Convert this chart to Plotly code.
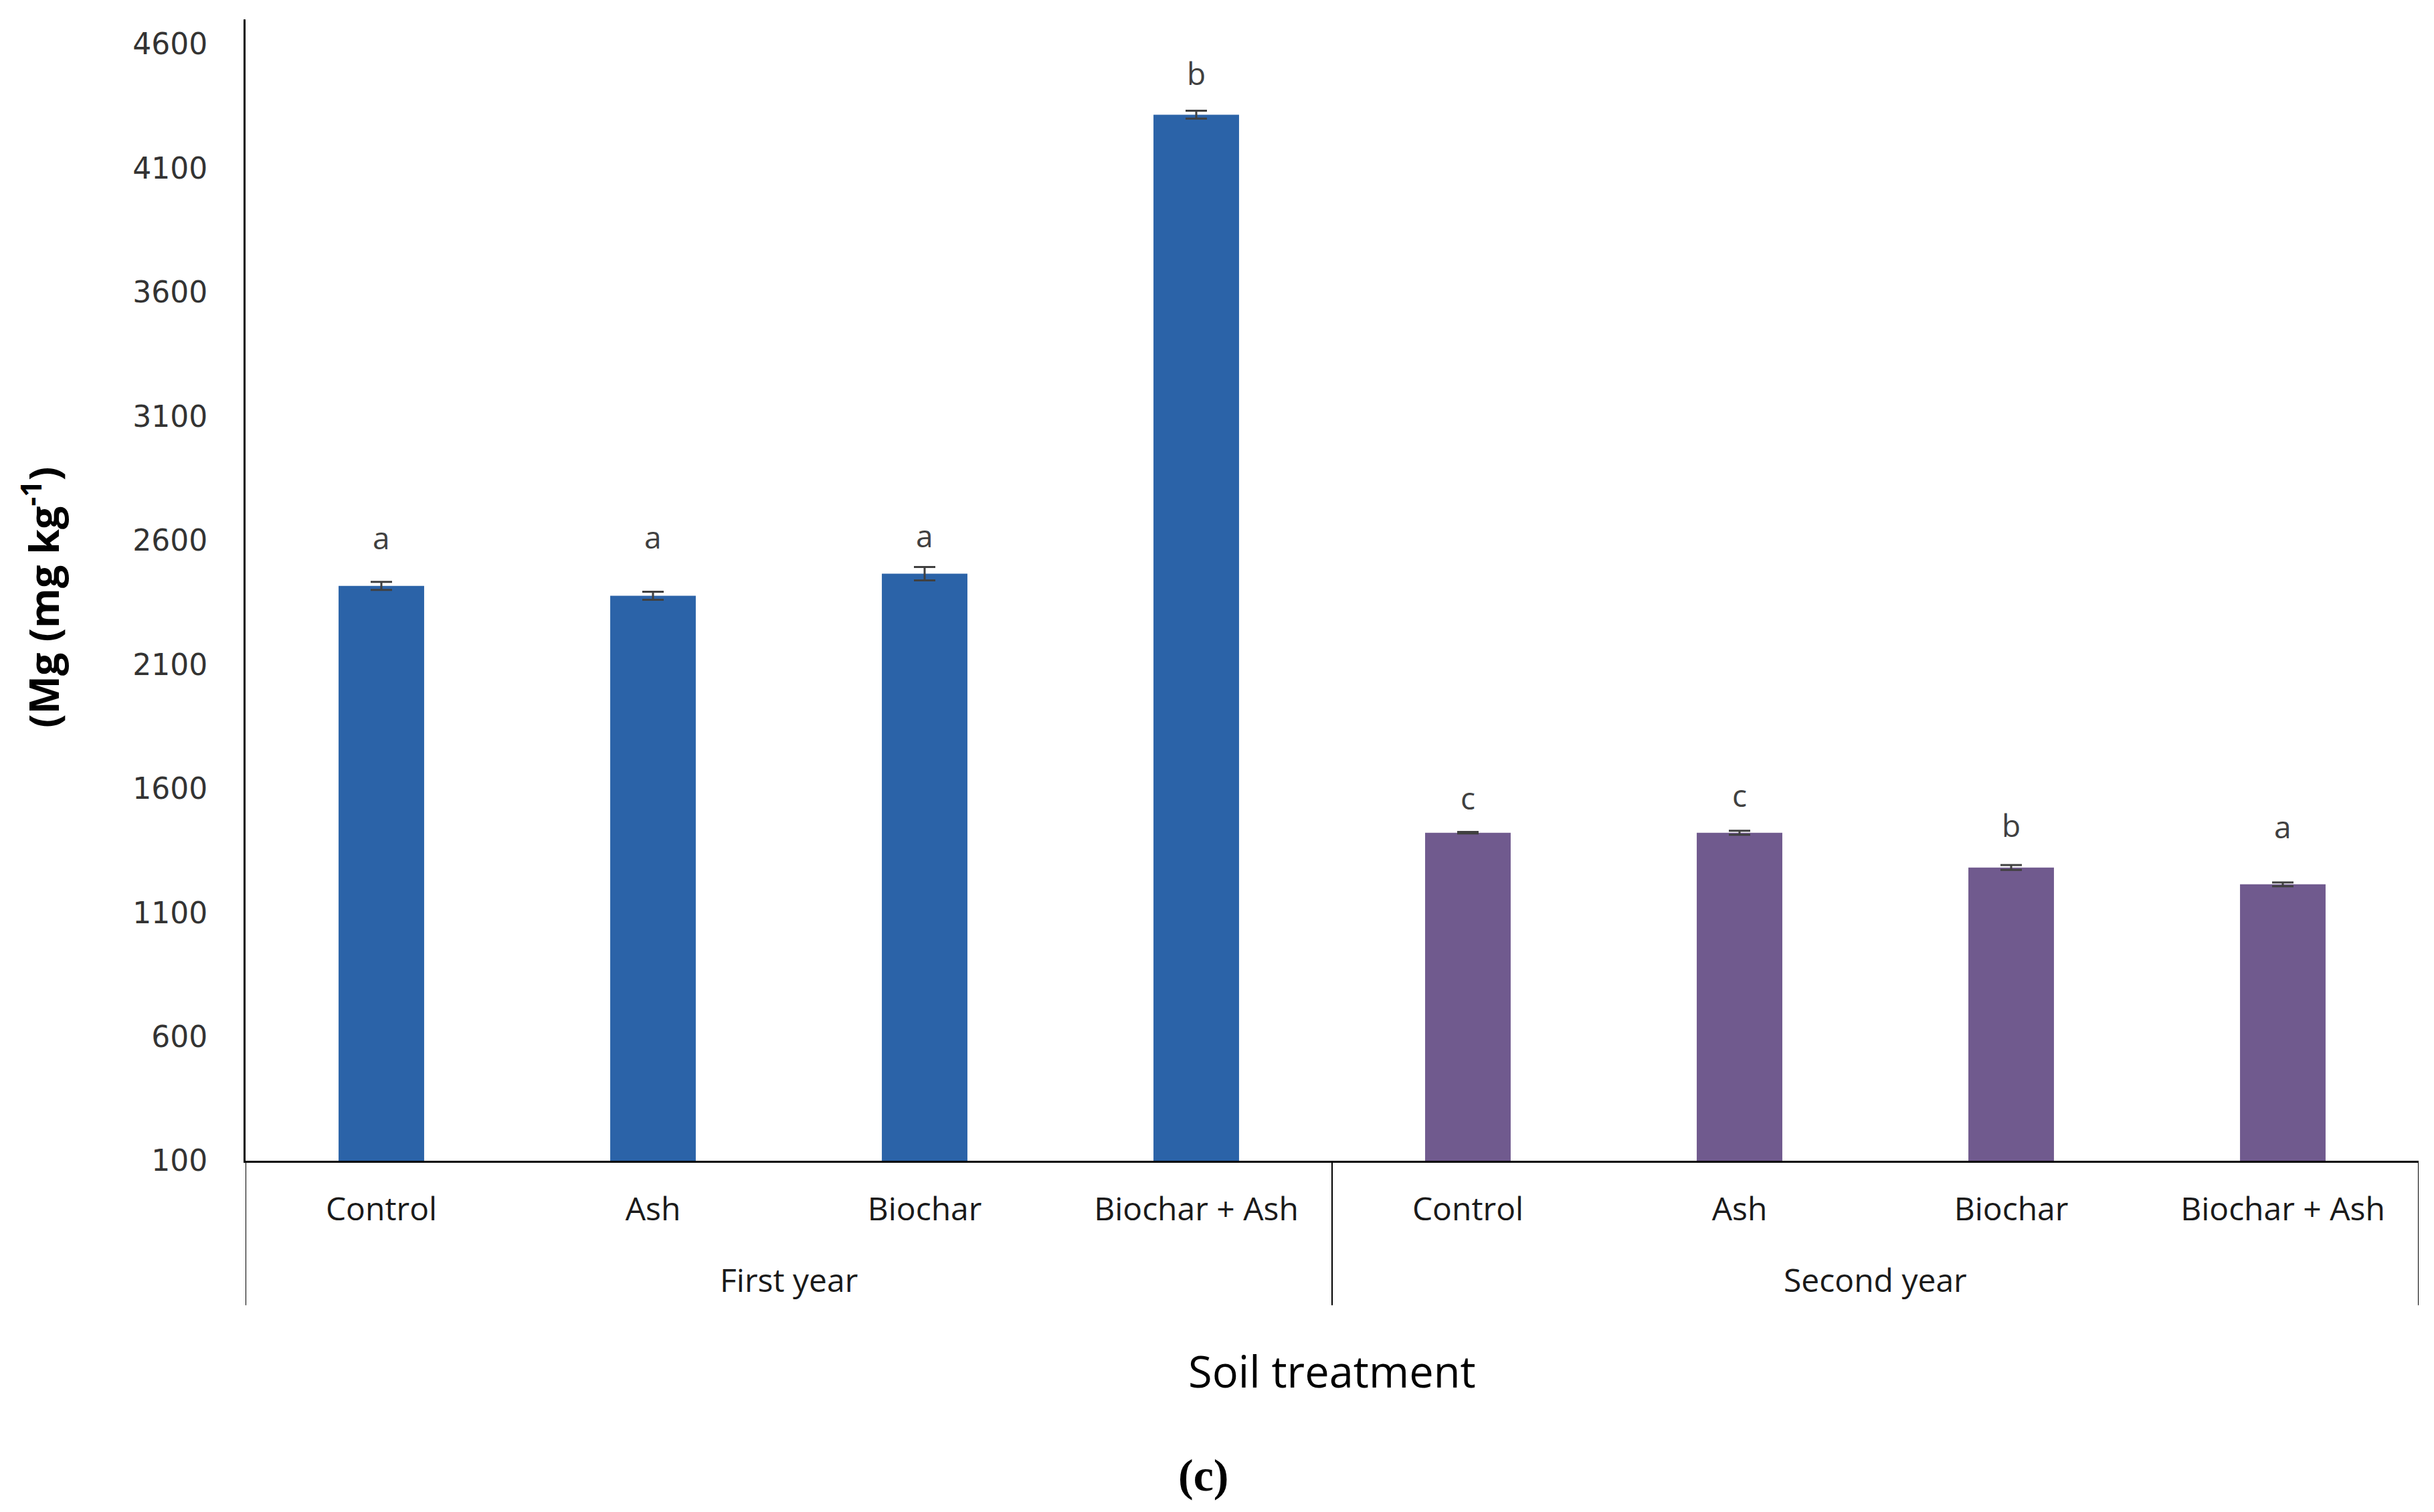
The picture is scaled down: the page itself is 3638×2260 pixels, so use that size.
import plotly.graph_objects as go

treatments = ["Control", "Ash", "Biochar", "Biochar + Ash"]
years = ["First year", "Second year"]

first_year = [2417, 2377, 2466, 4316]
first_err = [16, 16, 27, 16]
second_year = [1422, 1422, 1282, 1214]
second_err = [3, 8, 10, 8]

first_letters = ["a", "a", "a", "b"]
first_letter_y = [2614, 2617, 2622, 4484]
second_letters = ["c", "c", "b", "a"]
second_letter_y = [1565, 1576, 1454, 1449]

y_ticks = list(range(100, 4601, 500))

BLUE = "#2B63A8"
PURPLE = "#705A8E"

n = len(treatments)
fig = go.Figure()
series = [
    (first_year, first_err, BLUE),
    (second_year, second_err, PURPLE),
]
for g, (vals, errs, col) in enumerate(series):
    xs = [g * n + i for i in range(n)]
    fig.add_trace(go.Bar(
        x=xs,
        y=vals,
        marker=dict(color=col, line=dict(width=0)),
        width=0.315,
        error_y=dict(type="data", array=errs, color="#404040", thickness=3, width=16),
        showlegend=False,
    ))

letters = first_letters + second_letters
letter_y = first_letter_y + second_letter_y
for i, (lt, ly) in enumerate(zip(letters, letter_y)):
    fig.add_annotation(
        x=i, y=ly, xref="x", yref="y", text=lt, showarrow=False,
        yanchor="middle", xanchor="center",
        font=dict(family="Open Sans", size=46, color="#404040"),
    )

# group labels and dividers of the two-level category axis
for g, yr in enumerate(years):
    fig.add_annotation(
        x=g * n + (n - 1) / 2, y=0, xref="x", yref="paper", yshift=-177,
        text=yr, showarrow=False, xanchor="center", yanchor="middle",
        font=dict(family="Open Sans", size=48, color="#1a1a1a"),
    )
for b in range(len(years) + 1):
    fig.add_shape(
        type="line", xref="x", yref="paper", x0=b * n - 0.5, x1=b * n - 0.5,
        ysizemode="pixel", yanchor=0, y0=0, y1=-216,
        line=dict(color="black", width=2),
    )

fig.add_annotation(
    x=0, y=0.4935, xref="paper", yref="paper", xshift=-306,
    text="<b>(Mg (mg kg<sup>-1</sup>)</b>", textangle=-90, showarrow=False,
    xanchor="center", yanchor="middle",
    font=dict(family="Open Sans", size=61, color="#000000"),
)
fig.add_annotation(
    x=0.5, y=0, xref="paper", yref="paper", yshift=-314,
    text="Soil treatment", showarrow=False, xanchor="center", yanchor="middle",
    font=dict(family="Open Sans", size=65, color="#000000"),
)
fig.add_annotation(
    x=0, y=0, xref="paper", yref="paper", xshift=1431, yshift=-470,
    text="<b>(c)</b>", showarrow=False, xanchor="center", yanchor="middle",
    font=dict(family="Liberation Serif", size=68, color="#000000"),
)

fig.update_layout(
    width=3630, height=2252,
    margin=dict(l=359, r=23, t=21, b=525),
    paper_bgcolor="white", plot_bgcolor="white",
    barmode="overlay",
    xaxis=dict(
        range=[-0.5, 2 * n - 0.5],
        tickvals=list(range(2 * n)), ticktext=treatments * 2,
        showline=True, linecolor="black", linewidth=3,
        showgrid=False, ticks="", zeroline=False,
        ticklabelstandoff=28,
        tickfont=dict(family="Open Sans", size=48, color="#1a1a1a"),
    ),
    yaxis=dict(
        range=[100, 4700], tickvals=y_ticks, ticktext=[str(v) for v in y_ticks],
        showline=True, linecolor="black", linewidth=3,
        showgrid=False, ticks="", zeroline=False,
        ticklabelstandoff=45,
        tickfont=dict(family="DejaVu Sans", size=44, color="#333333"),
    ),
)

fig.write_html("out.html")
